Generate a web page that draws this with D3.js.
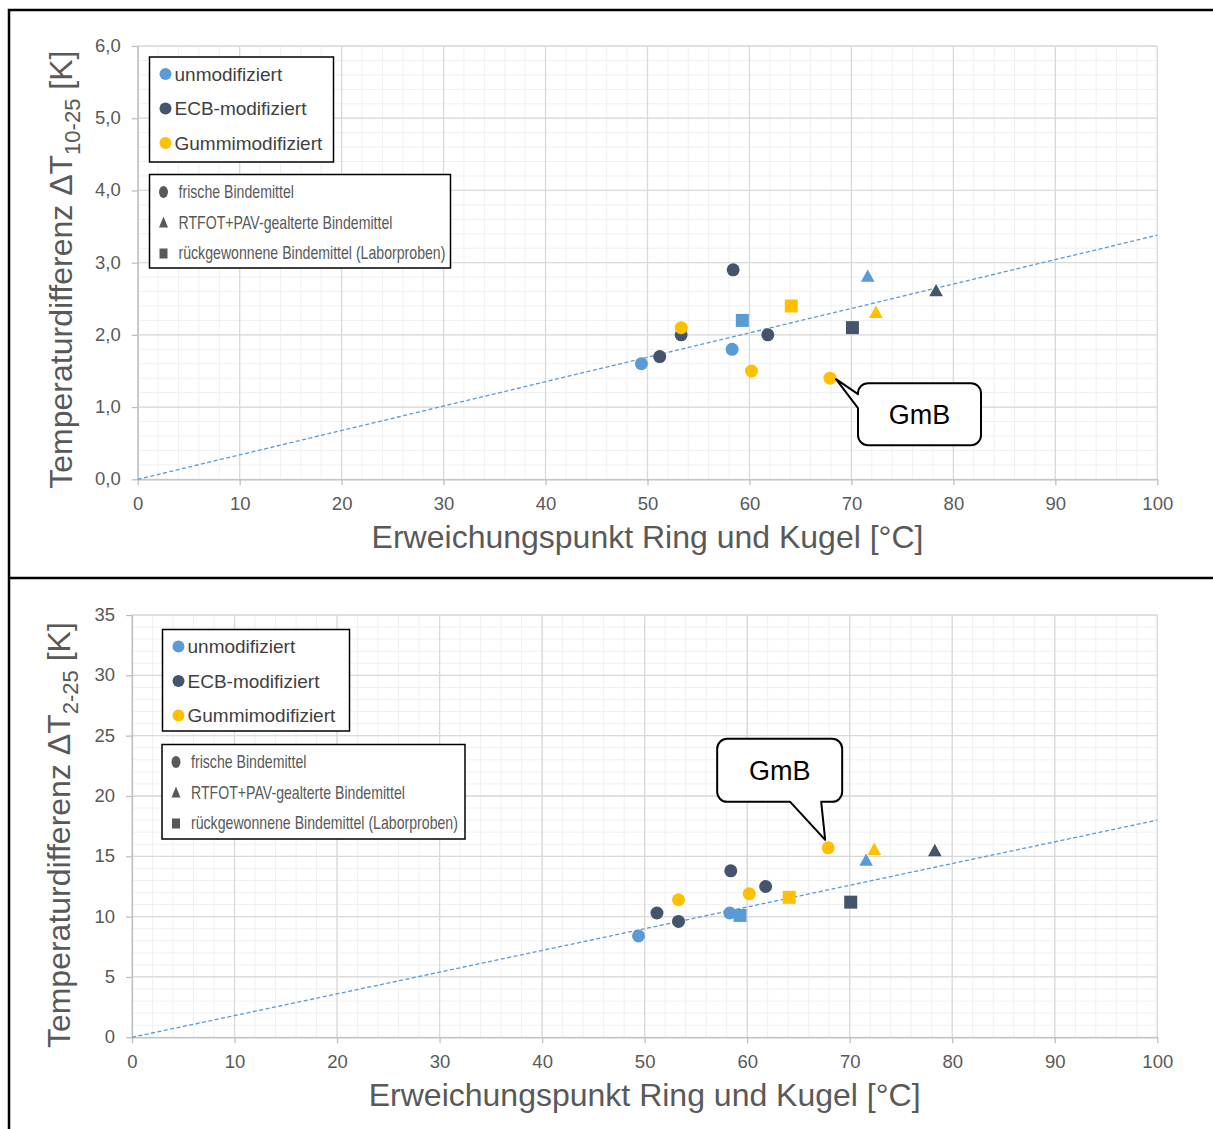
<!DOCTYPE html>
<html><head><meta charset="utf-8">
<script src="https://cdn.jsdelivr.net/npm/d3@7"></script>
<style>body{margin:0;background:#fff} svg{display:block}</style>
</head><body>
<svg id="c" width="1213" height="1129"></svg>
<script>
// ---------- data ----------
const groups = ["unmodifiziert", "ECB-modifiziert", "Gummimodifiziert"];
const groupColors = ["#5b9bd5", "#44546a", "#ffc000"];
const shapeLabels = ["frische Bindemittel", "RTFOT+PAV-gealterte Bindemittel", "rückgewonnene Bindemittel (Laborproben)"];
const shapeKeys = ["circle", "triangle", "square"];
const pointGroup = [0, 0, 0, 0, 1, 1, 1, 1, 1, 1, 2, 2, 2, 2, 2];
const pointShape = ["circle", "circle", "triangle", "square", "circle", "circle", "circle", "circle", "triangle", "square", "circle", "circle", "circle", "triangle", "square"];
const softeningPoint = [49.4, 58.3, 71.6, 59.3, 51.2, 53.3, 58.4, 61.8, 78.3, 70.1, 53.3, 60.2, 67.9, 72.4, 64.1];
const deltaT1025 = [1.6, 1.8, 2.8, 2.2, 1.7, 2.0, 2.9, 2.0, 2.6, 2.1, 2.1, 1.5, 1.4, 2.3, 2.4];
const deltaT225 = [8.4, 10.3, 14.6, 10.1, 10.3, 9.6, 13.8, 12.5, 15.4, 11.2, 11.4, 11.9, 15.7, 15.5, 11.6];
const trendSlope1 = 0.0338;
const trendSlope2 = 0.18;
const xTicks = [0, 10, 20, 30, 40, 50, 60, 70, 80, 90, 100];
const yTicks1 = [0, 1, 2, 3, 4, 5, 6];
const yTickLabels1 = ["0,0", "1,0", "2,0", "3,0", "4,0", "5,0", "6,0"];
const yTicks2 = [0, 5, 10, 15, 20, 25, 30, 35];
const yTickLabels2 = ["0", "5", "10", "15", "20", "25", "30", "35"];
const calloutIndex = 12;
const calloutLabel = "GmB";
const xTitle = "Erweichungspunkt Ring und Kugel [°C]";
const yTitleMain = "Temperaturdifferenz ΔT";
const yTitleSub1 = "10-25";
const yTitleSub2 = "2-25";

// ---------- drawing ----------
const svg = d3.select("#c");
const FONT = "'Liberation Sans', Arial, sans-serif";

// frame
svg.append("path").attr("d", "M9,1129 V10 H1213 M9,578 H1213")
  .attr("fill", "none").attr("stroke", "#000").attr("stroke-width", 2.5);

function symbolPath(shape, s) {
  if (shape === "circle") return d3.symbol(d3.symbolCircle, Math.PI * s * s / 4)();
  if (shape === "square") return d3.symbol(d3.symbolSquare, s * s)();
  const h = s * 0.95, w = s * 1.05;
  return `M0,${-h * 0.62}L${w / 2},${h * 0.38}L${-w / 2},${h * 0.38}Z`;
}

function drawChart(cfg) {
  const g = svg.append("g");
  const x = d3.scaleLinear().domain([0, 100]).range([cfg.left, cfg.right]);
  const y = d3.scaleLinear().domain([0, cfg.yMax]).range([cfg.bottom, cfg.top]);

  // minor grid
  g.append("g").selectAll("line").data(d3.range(0, 100.001, 2))
    .join("line").attr("x1", d => x(d)).attr("x2", d => x(d)).attr("y1", y(0)).attr("y2", y(cfg.yMax))
    .attr("stroke", "#f0f0f0").attr("stroke-width", 1);
  g.append("g").selectAll("line").data(d3.range(0, cfg.yMax + 1e-6, cfg.yMinor))
    .join("line").attr("y1", d => y(d)).attr("y2", d => y(d)).attr("x1", x(0)).attr("x2", x(100))
    .attr("stroke", "#f0f0f0").attr("stroke-width", 1);
  // major grid
  g.append("g").selectAll("line").data(xTicks)
    .join("line").attr("x1", d => x(d)).attr("x2", d => x(d)).attr("y1", y(0)).attr("y2", y(cfg.yMax))
    .attr("stroke", "#d9d9d9").attr("stroke-width", 1.3);
  g.append("g").selectAll("line").data(cfg.yTicks)
    .join("line").attr("y1", d => y(d)).attr("y2", d => y(d)).attr("x1", x(0)).attr("x2", x(100))
    .attr("stroke", "#d9d9d9").attr("stroke-width", 1.3);

  // axes
  const xAxis = d3.axisBottom(x).tickValues(xTicks).tickSizeInner(6).tickSizeOuter(0).tickPadding(8).tickFormat(d3.format("d"));
  const ax = g.append("g").attr("transform", `translate(0,${y(0)})`).call(xAxis);
  const yAxis = d3.axisLeft(y).tickValues(cfg.yTicks).tickSizeInner(6).tickSizeOuter(0).tickPadding(11)
    .tickFormat((d, i) => cfg.yLabels[i]);
  const ay = g.append("g").attr("transform", `translate(${x(0)},0)`).call(yAxis);
  [ax, ay].forEach(a => {
    a.select(".domain").attr("stroke", "#bfbfbf").attr("stroke-width", 1.3);
    a.selectAll(".tick line").attr("stroke", "#bfbfbf").attr("stroke-width", 1.3);
    a.selectAll(".tick text").attr("fill", "#595959").attr("font-size", 18.5).attr("font-family", FONT);
  });
  ax.selectAll(".tick text").attr("dy", "0.9em");
  ay.selectAll(".tick text").attr("dy", "0.3em");

  // titles
  g.append("text").attr("x", (x(0) + x(100)) / 2).attr("y", cfg.xTitleY)
    .attr("text-anchor", "middle").attr("font-family", FONT).attr("font-size", 32).attr("fill", "#595959")
    .text(xTitle);
  const yt = g.append("text").attr("transform", `translate(${cfg.yTitleX},${(y(0) + y(cfg.yMax)) / 2 + cfg.yTitleShift}) rotate(-90)`)
    .attr("text-anchor", "middle").attr("font-family", FONT).attr("font-size", 32).attr("fill", "#595959");
  yt.append("tspan").text(yTitleMain);
  yt.append("tspan").attr("font-size", 22).attr("dy", 8).text(cfg.yTitleSub);
  yt.append("tspan").attr("dy", -8).text(" [K]");

  // trendline
  g.append("line").attr("x1", x(0)).attr("y1", y(0)).attr("x2", x(100)).attr("y2", y(100 * cfg.slope))
    .attr("stroke", "#5b9bd5").attr("stroke-width", 1.3).attr("stroke-dasharray", "4,2.5");

  // points
  g.append("g").selectAll("path").data(d3.range(softeningPoint.length))
    .join("path")
    .attr("transform", i => `translate(${x(softeningPoint[i])},${y(cfg.values[i])})`)
    .attr("d", i => symbolPath(pointShape[i], 13))
    .attr("fill", i => groupColors[pointGroup[i]]);

  // legend 1 (colors)
  const l1 = cfg.leg1;
  g.append("rect").attr("x", l1.x).attr("y", l1.y).attr("width", l1.w).attr("height", l1.h)
    .attr("fill", "#fff").attr("stroke", "#000").attr("stroke-width", 1.5);
  groups.forEach((name, i) => {
    const cy = l1.y + 17 + i * 34.5;
    g.append("circle").attr("cx", l1.x + 16).attr("cy", cy).attr("r", 6).attr("fill", groupColors[i]);
    g.append("text").attr("x", l1.x + 25).attr("y", cy).attr("dy", "0.36em")
      .attr("font-family", FONT).attr("font-size", 19).attr("fill", "#404040").text(name);
  });
  // legend 2 (shapes) - condensed text
  const l2 = cfg.leg2;
  g.append("rect").attr("x", l2.x).attr("y", l2.y).attr("width", l2.w).attr("height", l2.h)
    .attr("fill", "#fff").attr("stroke", "#000").attr("stroke-width", 1.5);
  shapeLabels.forEach((name, i) => {
    const cy = l2.y + 17.5 + i * 30.5;
    const mx = l2.x + 14;
    let mk;
    if (shapeKeys[i] === "circle") mk = g.append("ellipse").attr("cx", mx).attr("cy", cy).attr("rx", 4.5).attr("ry", 6);
    else if (shapeKeys[i] === "triangle") mk = g.append("path").attr("d", `M${mx},${cy - 6}L${mx + 4.5},${cy + 5}L${mx - 4.5},${cy + 5}Z`);
    else mk = g.append("rect").attr("x", mx - 4).attr("y", cy - 4.5).attr("width", 8).attr("height", 10);
    mk.attr("fill", "#595959");
    const tx = l2.x + 29;
    g.append("text").attr("transform", `translate(${tx},${cy}) scale(0.785,1)`).attr("dy", "0.36em")
      .attr("font-family", FONT).attr("font-size", 18).attr("fill", "#595959").text(name);
  });

  // callout
  const px = x(softeningPoint[calloutIndex]), py = y(cfg.values[calloutIndex]);
  const c = cfg.callout, r = 10;
  const bx0 = px + c.dx, by0 = py + c.dy, bx1 = bx0 + c.w, by1 = by0 + c.h;
  const tx = px + c.tipDx, ty = py + c.tipDy;
  let d;
  if (c.side === "left") {
    d = `M${bx0 + r},${by0}H${bx1 - r}A${r},${r} 0 0 1 ${bx1},${by0 + r}V${by1 - r}A${r},${r} 0 0 1 ${bx1 - r},${by1}` +
      `H${bx0 + r}A${r},${r} 0 0 1 ${bx0},${by1 - r}V${by0 + c.p2}L${tx},${ty}L${bx0},${by0 + c.p1}V${by0 + r}A${r},${r} 0 0 1 ${bx0 + r},${by0}Z`;
  } else {
    d = `M${bx0 + r},${by0}H${bx1 - r}A${r},${r} 0 0 1 ${bx1},${by0 + r}V${by1 - r}A${r},${r} 0 0 1 ${bx1 - r},${by1}` +
      `H${bx0 + c.p2}L${tx},${ty}L${bx0 + c.p1},${by1}H${bx0 + r}A${r},${r} 0 0 1 ${bx0},${by1 - r}V${by0 + r}A${r},${r} 0 0 1 ${bx0 + r},${by0}Z`;
  }
  g.append("path").attr("d", d).attr("fill", "#fff").attr("stroke", "#000").attr("stroke-width", 2).attr("stroke-linejoin", "round");
  g.append("text").attr("x", (bx0 + bx1) / 2).attr("y", (by0 + by1) / 2).attr("dy", "0.36em")
    .attr("text-anchor", "middle").attr("font-family", FONT).attr("font-size", 27).attr("fill", "#000").text(calloutLabel);
}

drawChart({
  left: 137.7, right: 1157.3, top: 46, bottom: 479.3, yMax: 6, yMinor: 0.2,
  yTicks: yTicks1, yLabels: yTickLabels1, values: deltaT1025, slope: trendSlope1,
  xTitleY: 548, yTitleX: 72, yTitleShift: 7, yTitleSub: yTitleSub1,
  leg1: { x: 149.5, y: 57, w: 184, h: 105 },
  leg2: { x: 149.5, y: 174.5, w: 301, h: 93.5 },
  callout: { side: "left", dx: 28, dy: 5, w: 123, h: 62, p1: 11, p2: 25, tipDx: 6, tipDy: 1 }
});
drawChart({
  left: 132, right: 1157.3, top: 615, bottom: 1037.3, yMax: 35, yMinor: 1,
  yTicks: yTicks2, yLabels: yTickLabels2, values: deltaT225, slope: trendSlope2,
  xTitleY: 1106, yTitleX: 70, yTitleShift: 9, yTitleSub: yTitleSub2,
  leg1: { x: 162.5, y: 629.5, w: 187, h: 101.5 },
  leg2: { x: 162, y: 744.5, w: 303, h: 94.5 },
  callout: { side: "bottom", dx: -111, dy: -109, w: 125, h: 63, p1: 73, p2: 104, tipDx: -3, tipDy: -8 }
});
</script>
</body></html>
